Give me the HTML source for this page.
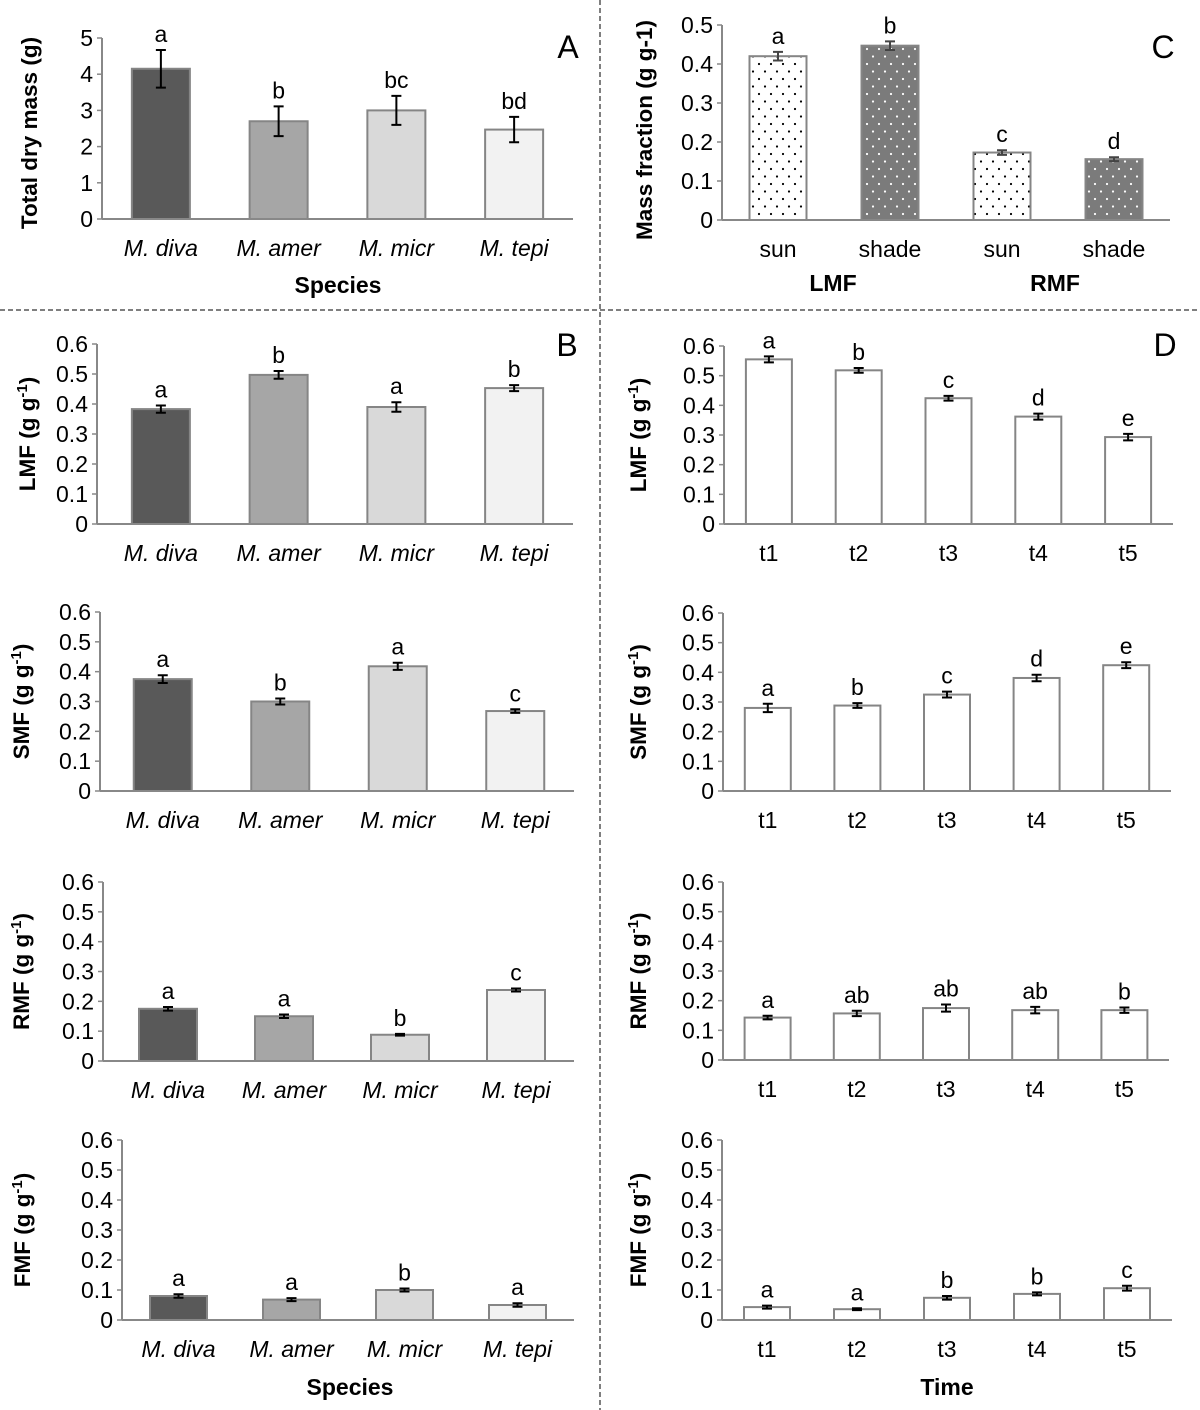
<!DOCTYPE html>
<html><head><meta charset="utf-8"><style>
html,body{margin:0;padding:0;background:#fff;}
svg{display:block;font-family:"Liberation Sans",Arial,sans-serif;}
</style></head><body>
<svg id="fig" width="1200" height="1410" viewBox="0 0 1200 1410" xmlns="http://www.w3.org/2000/svg">
<defs>
<pattern id="dotsSun" width="12" height="15" patternUnits="userSpaceOnUse"><rect width="12" height="15" fill="#fff"/><circle cx="3" cy="4" r="1.1" fill="#000"/><circle cx="9" cy="11.5" r="1.1" fill="#000"/></pattern>
<pattern id="dotsShade" width="12" height="15" patternUnits="userSpaceOnUse"><rect width="12" height="15" fill="#7b7b7b"/><circle cx="3" cy="4" r="1.1" fill="#fff"/><circle cx="9" cy="11.5" r="1.1" fill="#fff"/></pattern>
</defs>
<line x1="600" y1="0" x2="600" y2="1410" stroke="#555" stroke-width="1.5" stroke-dasharray="5,3"/>
<line x1="0" y1="310" x2="1200" y2="310" stroke="#555" stroke-width="1.5" stroke-dasharray="5,3"/>
<g id="layer"></g>
</svg>
<script>
const species = ["M. diva","M. amer","M. micr","M. tepi"];
const times = ["t1","t2","t3","t4","t5"];
const cLabels = ["sun","shade","sun","shade"];
const speciesColors = ["#595959","#a6a6a6","#d9d9d9","#f2f2f2"];
const fractionTicks = ["0","0.1","0.2","0.3","0.4","0.5","0.6"];
const massTicks = ["0","1","2","3","4","5"];
const cTicks = ["0","0.1","0.2","0.3","0.4","0.5"];

const massVals = [4.15,2.7,3.0,2.47];
const massErr = [0.52,0.41,0.4,0.35];
const massLetters = ["a","b","bc","bd"];

const cVals = [0.42,0.447,0.173,0.156];
const cErr = [0.011,0.011,0.006,0.005];
const cLetters = ["a","b","c","d"];

const bLMF = [0.383,0.497,0.39,0.453];
const bLMFerr = [0.012,0.013,0.016,0.01];
const bLMFlet = ["a","b","a","b"];
const bSMF = [0.375,0.30,0.418,0.268];
const bSMFerr = [0.013,0.01,0.012,0.006];
const bSMFlet = ["a","b","a","c"];
const bRMF = [0.175,0.15,0.088,0.238];
const bRMFerr = [0.006,0.006,0.003,0.005];
const bRMFlet = ["a","a","b","c"];
const bFMF = [0.08,0.068,0.1,0.05];
const bFMFerr = [0.006,0.005,0.005,0.006];
const bFMFlet = ["a","a","b","a"];

const dLMF = [0.555,0.518,0.424,0.362,0.293];
const dLMFerr = [0.01,0.008,0.008,0.01,0.011];
const dLMFlet = ["a","b","c","d","e"];
const dSMF = [0.28,0.288,0.325,0.381,0.424];
const dSMFerr = [0.014,0.008,0.01,0.011,0.01];
const dSMFlet = ["a","b","c","d","e"];
const dRMF = [0.143,0.157,0.175,0.168,0.168];
const dRMFerr = [0.006,0.009,0.012,0.011,0.009];
const dRMFlet = ["a","ab","ab","ab","b"];
const dFMF = [0.043,0.036,0.074,0.087,0.106];
const dFMFerr = [0.005,0.003,0.006,0.005,0.008];
const dFMFlet = ["a","a","b","b","c"];

const NS = "http://www.w3.org/2000/svg";
const layer = document.getElementById("layer");
function mk(tag, attrs, parent){
  const e = document.createElementNS(NS, tag);
  for (const k in attrs) e.setAttribute(k, attrs[k]);
  (parent||layer).appendChild(e);
  return e;
}

function panel(o){
  const g = mk("g", {});
  
  
  const n = o.cats.length;
  const yScale = v => o.y0 - (v / o.max) * (o.y0 - o.yTop);
  const slot = (o.x1 - o.xc) / n;
  const xScale = i => o.xc + slot * (i + 0.5);
  o.ticks.forEach((t, i) => {
    const v = o.max * i / (o.ticks.length - 1);
    const y = yScale(v);
    const tk = mk("line", {x1:o.xa-5, x2:o.xa, y1:y, y2:y, stroke:"#888", "stroke-width":1.5}, g);
    
    
    const tl = mk("text", {x:o.xa-9, y:y+8, "text-anchor":"end", "font-size":23, fill:"#000"}, g);
    tl.textContent = t;
    
    
  });
  o.vals.forEach((v, i) => {
    const cx = xScale(i), y = yScale(v);
    const r = mk("rect", {x:cx-o.bw/2, y:y, width:o.bw, height:o.y0-y, fill:o.fills[i], stroke:"#858585", "stroke-width":2}, g);
    
    
    const e = o.errs[i];
    const yh = yScale(v + e), yl = yScale(v - e);
    const eb = mk("path", {d:`M${cx},${yh}V${yl}M${cx-5},${yh}H${cx+5}M${cx-5},${yl}H${cx+5}`, stroke:o.errColor||"#000", "stroke-width":2, fill:"none"}, g);
    
    
    const lt = mk("text", {x:cx, y:yh-8, "text-anchor":"middle", "font-size":23, fill:"#000"}, g);
    lt.textContent = o.letters[i];
    
    
    const cl = mk("text", {x:cx, y:o.y0+37, "text-anchor":"middle", "font-size":23, fill:"#000", "font-style":o.italic?"italic":"normal"}, g);
    cl.textContent = o.cats[i];
    
    
  });
  const ay = mk("line", {x1:o.xa, x2:o.xa, y1:o.yTop, y2:o.y0, stroke:"#888", "stroke-width":2}, g);
  
  
  const ax = mk("line", {x1:o.xa, x2:o.x1, y1:o.y0, y2:o.y0, stroke:"#888", "stroke-width":2}, g);
  
  
  const cy = o.titleY || (o.y0 + o.yTop) / 2;
  const tt = mk("text", {x:0, y:0, transform:`translate(${o.titleX},${cy}) rotate(-90)`, "text-anchor":"middle", "font-size":22.5, "font-weight":"bold", fill:"#000"}, g);
  
  
  if (o.sup) {
    tt.appendChild(document.createTextNode(o.title + " (g g"));
    const s = document.createElementNS(NS, "tspan");
    s.setAttribute("dy", -8); s.setAttribute("font-size", 15); s.textContent = "-1";
    tt.appendChild(s);
    const s2 = document.createElementNS(NS, "tspan");
    s2.setAttribute("dy", 8); s2.textContent = ")";
    tt.appendChild(s2);
  } else tt.textContent = o.title;
  if (o.letter) {
    const pl = mk("text", {x:o.letter[1], y:o.letter[2], "text-anchor":"middle", "font-size":32, fill:"#000"}, g);
    pl.textContent = o.letter[0];
    
    
  }
  return g;
}

const spFill = speciesColors;
const wFill = ["#fff","#fff","#fff","#fff","#fff"];

panel({name:"panel-a-total-dry-mass", cats:species, italic:true, vals:massVals, errs:massErr, letters:massLetters, fills:spFill, ticks:massTicks, max:5, xa:102, xc:102, x1:573, y0:219, yTop:38, bw:58, title:"Total dry mass (g)", titleX:37, titleY:133, letter:["A",568,58]});
panel({name:"panel-c-mass-fraction", cats:cLabels, italic:false, vals:cVals, errs:cErr, letters:cLetters, fills:["url(#dotsSun)","url(#dotsShade)","url(#dotsSun)","url(#dotsShade)"], errColor:"#444", ticks:cTicks, max:0.5, xa:722, xc:722, x1:1170, y0:220, yTop:25, bw:57, title:"Mass fraction (g g-1)", titleX:652, titleY:130, letter:["C",1163,58]});

panel({name:"panel-b-lmf", cats:species, italic:true, vals:bLMF, errs:bLMFerr, letters:bLMFlet, fills:spFill, ticks:fractionTicks, max:0.6, xa:97, xc:102, x1:573, y0:524, yTop:344, bw:58, title:"LMF", sup:true, titleX:35, letter:["B",567,356]});
panel({name:"panel-b-smf", cats:species, italic:true, vals:bSMF, errs:bSMFerr, letters:bSMFlet, fills:spFill, ticks:fractionTicks, max:0.6, xa:100, xc:104, x1:574, y0:791, yTop:612, bw:58, title:"SMF", sup:true, titleX:29});
panel({name:"panel-b-rmf", cats:species, italic:true, vals:bRMF, errs:bRMFerr, letters:bRMFlet, fills:spFill, ticks:fractionTicks, max:0.6, xa:103, xc:110, x1:574, y0:1061, yTop:882, bw:58, title:"RMF", sup:true, titleX:29});
panel({name:"panel-b-fmf", cats:species, italic:true, vals:bFMF, errs:bFMFerr, letters:bFMFlet, fills:spFill, ticks:fractionTicks, max:0.6, xa:122, xc:122, x1:574, y0:1320, yTop:1140, bw:57, title:"FMF", sup:true, titleX:30});

panel({name:"panel-d-lmf", cats:times, italic:false, vals:dLMF, errs:dLMFerr, letters:dLMFlet, fills:wFill, ticks:fractionTicks, max:0.6, xa:724, xc:724, x1:1173, y0:524, yTop:346, bw:46, title:"LMF", sup:true, titleX:646, letter:["D",1165,356]});
panel({name:"panel-d-smf", cats:times, italic:false, vals:dSMF, errs:dSMFerr, letters:dSMFlet, fills:wFill, ticks:fractionTicks, max:0.6, xa:723, xc:723, x1:1171, y0:791, yTop:613, bw:46, title:"SMF", sup:true, titleX:646});
panel({name:"panel-d-rmf", cats:times, italic:false, vals:dRMF, errs:dRMFerr, letters:dRMFlet, fills:wFill, ticks:fractionTicks, max:0.6, xa:723, xc:723, x1:1169, y0:1060, yTop:882, bw:46, title:"RMF", sup:true, titleX:646});
panel({name:"panel-d-fmf", cats:times, italic:false, vals:dFMF, errs:dFMFerr, letters:dFMFlet, fills:wFill, ticks:fractionTicks, max:0.6, xa:722, xc:722, x1:1172, y0:1320, yTop:1140, bw:46, title:"FMF", sup:true, titleX:646});

function label(txt, x, y, name){
  const t = mk("text", {x:x, y:y, "text-anchor":"middle", "font-size":23, "font-weight":"bold", fill:"#000"});
  t.textContent = txt;
  
  
}
label("Species", 338, 293, "x-axis-title-species-a");
label("LMF", 833, 291, "group-label-lmf");
label("RMF", 1055, 291, "group-label-rmf");
label("Species", 350, 1395, "x-axis-title-species-b");
label("Time", 947, 1395, "x-axis-title-time");
</script>
</body></html>
